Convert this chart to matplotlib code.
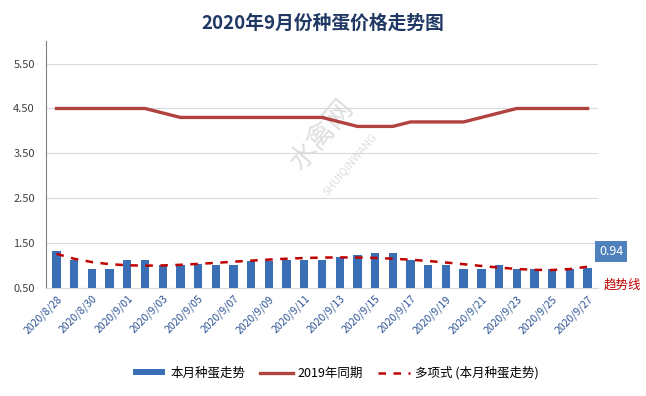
import matplotlib
matplotlib.use('Agg')
import matplotlib.pyplot as plt
import numpy as np
import pandas as pd

plt.rcParams['font.family'] = ['Noto Sans CJK SC', 'DejaVu Sans']

# 日期と価格
dates = pd.date_range('2020-08-28', '2020-09-27', freq='D')
price_2020 = [1.33, 1.13, 0.93, 0.93, 1.13, 1.13, 1.02, 1.02, 1.04, 1.02,
              1.02, 1.11, 1.11, 1.13, 1.13, 1.13, 1.18, 1.23, 1.28, 1.28,
              1.13, 1.02, 1.02, 0.93, 0.93, 1.02, 0.93, 0.93, 0.93, 0.93,
              0.94]
price_2019 = [4.5, 4.5, 4.5, 4.5, 4.5, 4.5, 4.4, 4.3, 4.3, 4.3,
              4.3, 4.3, 4.3, 4.3, 4.3, 4.3, 4.2, 4.1, 4.1, 4.1,
              4.2, 4.2, 4.2, 4.2, 4.3, 4.4, 4.5, 4.5, 4.5, 4.5,
              4.5]
labels = ['%d/%d/%02d' % (d.year, d.month, d.day) for d in dates]
yticks = [0.5, 1.5, 2.5, 3.5, 4.5, 5.5]

x = np.arange(len(dates))
trend = np.polyval(np.polyfit(x, price_2020, 6), x)  # 多項式トレンド

fig = plt.figure(figsize=(6.46, 3.96), dpi=100)
ax = fig.add_axes([0.071, 0.273, 0.855, 0.623])

b = ax.bar(x, price_2020, width=0.47, color='#3a6fb6', label='本月种蛋走势', zorder=3)
l1, = ax.plot(x, price_2019, color='#b0433f', lw=2.4, label='2019年同期', zorder=4)
l2, = ax.plot(x, trend, color='#c00000', lw=1.8, ls=(0, (3, 3)), label='多项式 (本月种蛋走势)', zorder=5)

ax.set_ylim(0.5, 6.0)
ax.set_xlim(-0.6, len(x) - 0.4)
ax.set_yticks(yticks)
ax.set_yticklabels(['%.2f' % v for v in yticks])
ax.yaxis.grid(True, color='#d9d9e3', lw=0.8, zorder=0)
ax.set_xticks(x[::2])
ax.set_xticklabels(labels[::2], rotation=45, ha='right', rotation_mode='anchor')
ax.tick_params(axis='x', length=0, labelsize=7.5, labelcolor='#2f5597', pad=4)
ax.tick_params(axis='y', length=0, labelsize=8, labelcolor='#404040', pad=8)
for s in ['top', 'right']:
    ax.spines[s].set_visible(False)
ax.spines['left'].set_color('#808080')
ax.spines['bottom'].set_color('#d9d9d9')

# 透かし
ax.text(0.50, 0.62, '水禽网', transform=ax.transAxes, fontsize=20, color='#c8c8c8',
        alpha=0.6, rotation=50, ha='center', va='center', zorder=1)
ax.text(0.55, 0.50, 'SHUIQINWANG', transform=ax.transAxes, fontsize=8, color='#c8c8c8',
        alpha=0.6, rotation=50, ha='center', va='center', zorder=1)

ax.annotate('%.2f' % price_2020[-1], xy=(x[-1], price_2020[-1]), xytext=(17, 12),
            textcoords='offset points', ha='center', va='center', color='white', fontsize=9,
            bbox=dict(boxstyle='square,pad=0.3', fc='#4f81bd', ec='none'), annotation_clip=False)
ax.annotate('趋势线', xy=(x[-1], price_2020[-1]), xytext=(25, -12),
            textcoords='offset points', ha='center', va='center', color='#c00000', fontsize=9,
            annotation_clip=False)

fig.suptitle('2020年9月份种蛋价格走势图', x=0.5, y=0.965, fontsize=13.5, fontweight='bold',
             color='#1f3864')

fig.legend([b, l1, l2], [b.get_label(), l1.get_label(), l2.get_label()],
           loc='center', bbox_to_anchor=(0.52, 0.058), ncol=3, frameon=False, fontsize=9,
           handlelength=2.6, handleheight=0.35, columnspacing=1.2, handletextpad=0.4)

fig.savefig('out.png', dpi=100)
